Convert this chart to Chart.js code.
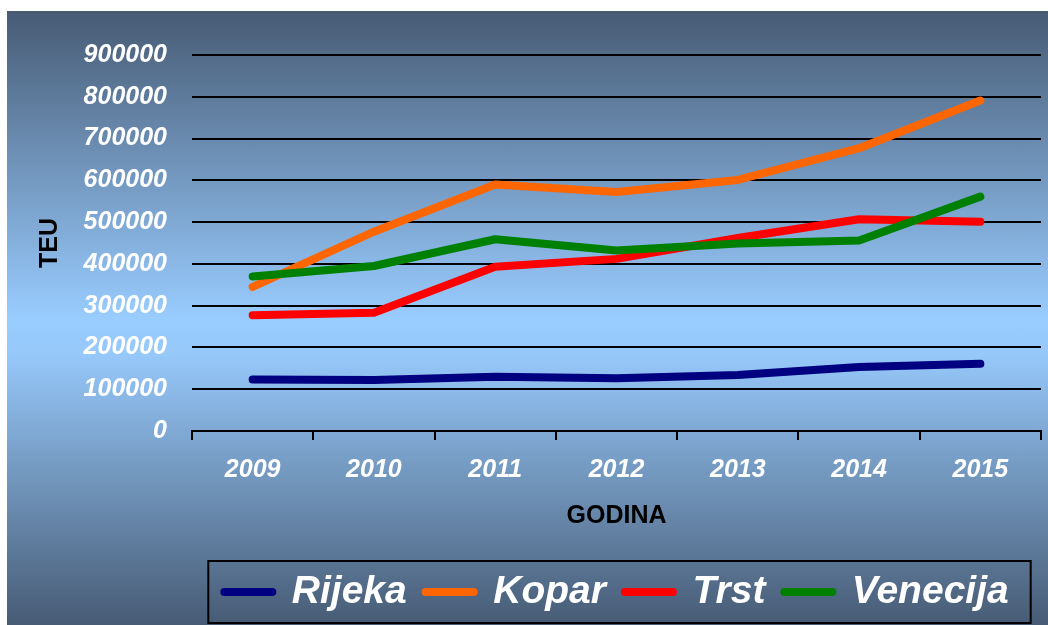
<!DOCTYPE html>
<html lang="hr">
<head>
<meta charset="utf-8">
<title>TEU po godinama</title>
<script src="https://cdn.jsdelivr.net/npm/chart.js@4.4.1/dist/chart.umd.min.js"></script>
<style>
  html, body { margin: 0; padding: 0; background: #fff; overflow: hidden; }
  #wrap { position: relative; width: 1048px; height: 625px; }
  #panel {
    position: absolute; left: 7px; top: 11px; right: 0; bottom: 0;
    background: linear-gradient(to bottom, #475b74 0%, #99ccff 50%, #96c8fa 56%, #475b74 100%);
  }
  #chart { position: absolute; left: 0; top: 0; }
</style>
</head>
<body>
<div id="wrap">
  <div id="panel"></div>
  <canvas id="chart" width="1048" height="625"></canvas>
</div>
<script>
const years = ['2009', '2010', '2011', '2012', '2013', '2014', '2015'];
const rijeka = [123000, 122000, 130000, 126000, 134000, 153000, 161000];
const kopar = [345000, 477000, 590000, 572000, 601000, 677000, 791000];
const trst = [277000, 283000, 393000, 412000, 462000, 507000, 501000];
const venecija = [370000, 395000, 459000, 432000, 449000, 456000, 561000];

const yMax = 900000;
const yStep = 100000;

const FONT = "'Liberation Sans', Arial, sans-serif";

const series = [
  { label: 'Rijeka', data: rijeka, color: '#000080', order: 3 },
  { label: 'Kopar', data: kopar, color: '#ff6600', order: 2 },
  { label: 'Trst', data: trst, color: '#ff0000', order: 1 },
  { label: 'Venecija', data: venecija, color: '#008000', order: 0 },
];

// okvir oko legende
const legendFrame = {
  id: 'legendFrame',
  afterDraw(chart) {
    const boxes = chart.legend?.legendHitBoxes;
    if (!boxes || !boxes.length) return;
    const first = boxes[0];
    const last = boxes[boxes.length - 1];
    const mid = first.top + first.height / 2;
    const { ctx } = chart;
    ctx.save();
    ctx.strokeStyle = '#000';
    ctx.lineWidth = 2;
    ctx.strokeRect(first.left - 16, mid - 31, last.left + last.width + 22 - (first.left - 16), 62);
    ctx.restore();
  },
};

const defaultLabels = Chart.defaults.plugins.legend.labels.generateLabels;

new Chart(document.getElementById('chart'), {
  type: 'line',
  data: {
    labels: years,
    datasets: series.map((s) => ({
      label: s.label,
      data: s.data,
      order: s.order,
      borderColor: s.color,
      backgroundColor: s.color,
      borderWidth: 8,
      borderCapStyle: 'round',
      borderJoinStyle: 'round',
      pointRadius: 0,
      pointHoverRadius: 0,
      tension: 0,
      fill: false,
    })),
  },
  options: {
    responsive: false,
    animation: false,
    events: [],
    layout: { padding: { left: 0, right: 7, top: 55, bottom: 3.5 } },
    scales: {
      x: {
        offset: true,
        afterFit: (scale) => { scale.height = 122.5; },
        grid: {
          offset: true,
          drawOnChartArea: false,
          drawTicks: true,
          tickLength: 9,
          color: '#000',
          lineWidth: 2,
        },
        border: { display: true, color: '#000', width: 2 },
        ticks: {
          padding: 15,
          color: '#fff',
          maxRotation: 0,
          font: { family: FONT, size: 25, weight: 'bold', style: 'italic' },
        },
        title: {
          display: true,
          text: 'GODINA',
          color: '#000',
          padding: { top: 0, bottom: 22.5 },
          font: { family: FONT, size: 25, weight: 'bold' },
        },
      },
      y: {
        min: 0,
        max: yMax,
        afterFit: (scale) => { scale.width = 192; },
        grid: { color: '#000', lineWidth: 2, drawTicks: false },
        border: { display: false },
        ticks: {
          stepSize: yStep,
          padding: 25,
          color: '#fff',
          callback: (value) => String(value),
          font: { family: FONT, size: 25, weight: 'bold', style: 'italic' },
        },
        title: {
          display: true,
          text: 'TEU',
          color: '#000',
          padding: { top: 35, bottom: 0 },
          font: { family: FONT, size: 25, weight: 'bold' },
        },
      },
    },
    plugins: {
      tooltip: { enabled: false },
      legend: {
        position: 'bottom',
        fullSize: false,
        labels: {
          usePointStyle: true,
          pointStyle: 'line',
          pointStyleWidth: 48,
          padding: 19,
          color: '#fff',
          generateLabels: (chart) =>
            defaultLabels(chart).map((item) => ({ ...item, lineCap: 'round', lineWidth: 8 })),
          sort: (a, b) => a.datasetIndex - b.datasetIndex,
          font: { family: FONT, size: 39, weight: 'bold', style: 'italic' },
        },
      },
    },
  },
  plugins: [legendFrame],
});
</script>
</body>
</html>
